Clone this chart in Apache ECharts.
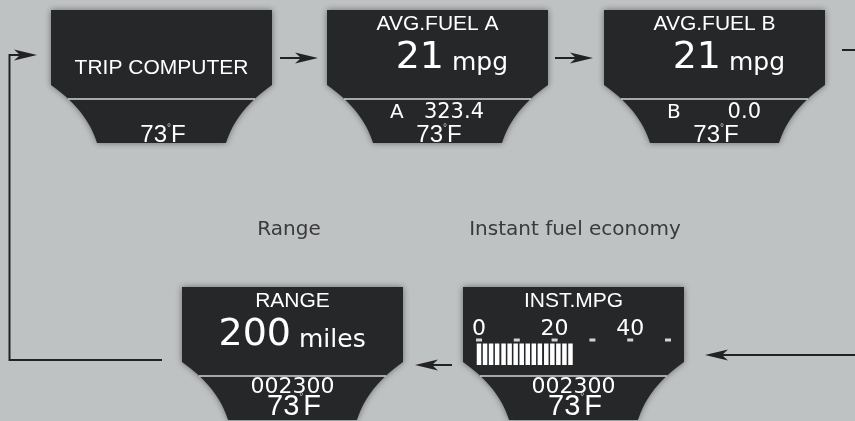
<!DOCTYPE html>
<html>
<head>
<meta charset="utf-8">
<script src="https://cdn.jsdelivr.net/npm/echarts@6/dist/echarts.min.js"></script>
<style>
  html, body { margin: 0; padding: 0; background: #bfc2c2; }
  #main { width: 855px; height: 421px; }
</style>
</head>
<body>
<div id="main"></div>
<script>
// 显示屏内容
var panelTitles = ['TRIP COMPUTER', 'AVG.FUEL A', 'AVG.FUEL B', 'RANGE', 'INST.MPG'];
var panelValues = ['', '21', '21', '200', ''];
var panelUnits = ['', 'mpg', 'mpg', 'miles', ''];
var tripNames = ['', 'A', 'B', '', ''];
var tripValues = ['', '323.4', '0.0', '002300', '002300'];
var outsideTemp = '73';
var captions = ['Range', 'Instant fuel economy'];

// 瞬时油耗条
var gaugeTicks = [0, 10, 20, 30, 40, 50];
var gaugeLabels = [0, 20, 40];
var gaugeBars = [0, 1.6, 3.2, 4.8, 6.5, 8.1, 9.7, 11.3, 12.9, 14.5, 16.1, 17.8, 19.4, 21.0, 22.6, 24.2];

// 布局
var panelPos = [[51, 10], [327, 10], [604, 10], [182, 287], [463, 287]];
var captionPos = [[289, 230], [575, 230]];

var BG = '#bfc2c2';
var PANEL = '#262729';
var LINE = '#222222';

// 二次贝塞尔取点
function quad(p0, p1, p2, n) {
  var pts = [];
  for (var k = 0; k <= n; k++) {
    var t = k / n, a = (1 - t) * (1 - t), b = 2 * t * (1 - t), c = t * t;
    pts.push([a * p0[0] + b * p1[0] + c * p2[0], a * p0[1] + b * p1[1] + c * p2[1]]);
  }
  return pts;
}

function panelPoints(x, y) {
  var w = 221, side = 75, h = 133, inset = 46;
  var pts = [[x, y], [x + w, y]];
  pts = pts.concat(quad([x + w, y + side], [x + w - 36, y + 100], [x + w - inset, y + h], 16));
  pts = pts.concat(quad([x + inset, y + h], [x + 36, y + 100], [x, y + side], 16));
  return pts;
}

function txt(text, x, y, size, family, align) {
  return {
    type: 'text', z: 10,
    style: {
      text: text, x: x, y: y, fill: '#ffffff',
      fontSize: size, fontFamily: family,
      align: align || 'center', verticalAlign: 'middle'
    }
  };
}

function arrowHead(tx, ty, dir) {
  var L = 23, H = 5.5, N = 6;
  return {
    type: 'polygon', z: 3,
    shape: { points: [[tx, ty], [tx - dir * L, ty - H], [tx - dir * (L - N), ty], [tx - dir * L, ty + H]] },
    style: { fill: LINE }
  };
}

function wire(points) {
  return {
    type: 'polyline', z: 3,
    shape: { points: points },
    style: { stroke: LINE, lineWidth: 2, fill: null }
  };
}

var elements = [];

panelPos.forEach(function (p, i) {
  var x = p[0], y = p[1];
  var top = y < 100;
  elements.push({
    type: 'polygon', z: 1,
    shape: { points: panelPoints(x, y) },
    style: { fill: PANEL, shadowBlur: 6, shadowColor: 'rgba(0,0,0,0.45)' }
  });
  elements.push({
    type: 'line', z: 2,
    shape: { x1: x + 17, y1: y + 89, x2: x + 204, y2: y + 89 },
    style: { stroke: '#d6d6d6', lineWidth: 1.5 }
  });

  // 标题
  if (i === 0) {
    elements.push(txt(panelTitles[i], x + 110.5, y + 58, 21, 'Liberation Sans'));
  } else {
    elements.push(txt(panelTitles[i], x + 110.5, y + 14, 21, 'Liberation Sans'));
  }

  // 主数值
  if (panelValues[i]) {
    var split = i === 3 ? x + 109 : x + 117;
    elements.push(txt(panelValues[i], split, y + 48, 38, 'DejaVu Sans', 'right'));
    elements.push(txt(panelUnits[i], split + 8, y + 53, 25, 'DejaVu Sans', 'left'));
  }

  // 里程
  if (tripNames[i]) {
    elements.push(txt(tripNames[i], x + 63, y + 103, 20, 'DejaVu Sans', 'left'));
    elements.push(txt(tripValues[i], x + 157, y + 103, 21, 'DejaVu Sans', 'right'));
  } else if (tripValues[i]) {
    elements.push(txt(tripValues[i], x + 110.5, y + 100.5, 22, 'DejaVu Sans'));
  }

  // 温度
  var ts = top ? 24 : 29;
  elements.push({
    type: 'text', z: 10,
    style: {
      text: '{t|' + outsideTemp + '}{d|°}{t|F}',
      x: x + 112, y: top ? y + 125 : y + 120,
      align: 'center', verticalAlign: 'middle',
      rich: {
        t: { fontSize: ts, fontFamily: 'Liberation Sans', fill: '#ffffff' },
        d: { fontSize: 10, fontFamily: 'Liberation Sans', fill: '#cfcfcf', verticalAlign: 'top' }
      }
    }
  });
});

// 箭头与连线
elements.push(wire([[162, 360], [9.5, 360], [9.5, 55], [20, 55]]));
elements.push(arrowHead(37, 55, 1));
elements.push(wire([[280, 58], [305, 58]]));
elements.push(arrowHead(318, 58, 1));
elements.push(wire([[555, 58], [580, 58]]));
elements.push(arrowHead(593, 58, 1));
elements.push(wire([[842, 50], [860, 50]]));
elements.push(wire([[860, 355], [720, 355]]));
elements.push(arrowHead(705, 355, -1));
elements.push(wire([[452, 365], [430, 365]]));
elements.push(arrowHead(415, 365, -1));

// 说明文字
captions.forEach(function (c, i) {
  elements.push({
    type: 'text', z: 10,
    style: {
      text: c, x: captionPos[i][0], y: captionPos[i][1],
      fill: '#3a3a3a', fontSize: 20, fontFamily: 'DejaVu Sans',
      align: 'center', verticalAlign: 'middle'
    }
  });
});

var myChart = echarts.init(document.getElementById('main'), null, { renderer: 'canvas' });

myChart.setOption({
  backgroundColor: BG,
  animation: false,
  graphic: { elements: elements },
  grid: { left: 479, width: 189, top: 337, height: 28 },
  xAxis: {
    type: 'value', position: 'top', min: 0, max: 50, interval: 10, z: 20,
    axisLine: { show: false }, axisTick: { show: false }, splitLine: { show: false },
    axisLabel: {
      color: '#ffffff', fontSize: 22, fontFamily: 'DejaVu Sans', margin: -3,
      formatter: function (v) { return gaugeLabels.indexOf(v) >= 0 ? String(v) : ''; }
    }
  },
  yAxis: { type: 'value', min: 0, max: 28, show: false },
  series: [
    {
      type: 'bar', z: 5, clip: false, barWidth: 4.5,
      itemStyle: { color: '#ffffff' },
      data: gaugeBars.map(function (v) { return [v, 21.5]; })
    },
    {
      type: 'scatter', z: 5, symbol: 'rect', symbolSize: [6, 3],
      itemStyle: { color: '#ffffff' },
      data: gaugeTicks.map(function (v) { return [v, 25]; })
    }
  ]
});
</script>
</body>
</html>
